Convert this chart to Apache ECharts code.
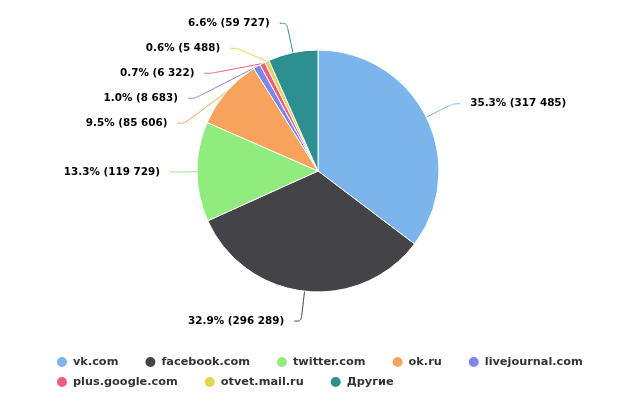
<!DOCTYPE html>
<html><head><meta charset="utf-8">
<script src="https://cdn.jsdelivr.net/npm/echarts@6/dist/echarts.min.js"></script>
<style>html,body{margin:0;padding:0;background:#fff}#c{width:620px;height:401px}</style>
</head><body><div id="c"></div>
<script>
const categories = ['vk.com','facebook.com','twitter.com','ok.ru','livejournal.com','plus.google.com','otvet.mail.ru','Другие'];
const values = [317485, 296289, 119729, 85606, 8683, 6322, 5488, 59727];
const colors = ['#7cb5ec','#434348','#90ed7d','#f7a35c','#8085e9','#f15c80','#e4d354','#2b908f'];

const total = values.reduce((a, b) => a + b, 0);
const fmt = n => String(n).replace(/\B(?=(\d{3})+(?!\d))/g, ' ');
const font = 'DejaVu Sans, Verdana, sans-serif';
const chart = echarts.init(document.getElementById('c'));
const legendStyle = {
  icon: 'circle', itemWidth: 12, itemHeight: 12, itemGap: 25,
  textStyle: {fontFamily: font, fontSize: 11.3, fontWeight: 'bold', color: '#333'}
};
chart.setOption({
  animation: false,
  color: colors,
  legend: [
    Object.assign({left: 50, top: 350, data: categories.slice(0,5)}, legendStyle),
    Object.assign({left: 50, top: 370, data: categories.slice(5)}, legendStyle)
  ],
  series: [{
    type: 'pie',
    top: 4,
    center: [318, 167],
    radius: [0, 121],
    startAngle: 90,
    itemStyle: {borderColor: '#fff', borderWidth: 1},
    label: {
      fontFamily: font, fontSize: 10.4, fontWeight: 'bold', color: '#000',
      lineHeight: 23, distanceToLabelLine: 10,
      formatter: p => (p.value / total * 100).toFixed(1) + '% (' + fmt(p.value) + ')'
    },
    labelLine: {length: 30, length2: 7, smooth: 0.3, lineStyle: {width: 1}},
    data: categories.map((n, i) => ({name: n, value: values[i]}))
  }]
});
</script></body></html>
